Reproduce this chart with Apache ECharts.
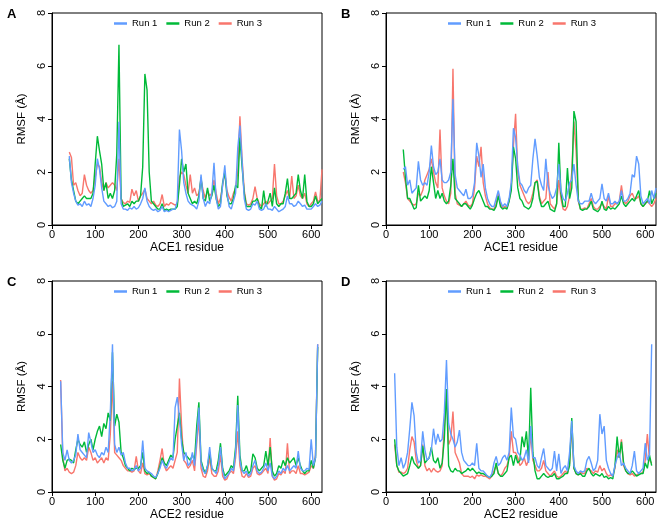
<!DOCTYPE html>
<html><head><meta charset="utf-8">
<script src="https://cdn.jsdelivr.net/npm/echarts@6/dist/echarts.min.js"></script>
<style>html,body{margin:0;padding:0;background:#fff}#c{width:668px;height:524px}</style>
</head><body><div id="c"></div>
<script>
// Residue positions (sampled every 5 residues)
const residuesACE1 = [40,45,50,55,60,65,70,75,80,85,90,95,100,105,110,115,120,125,130,135,140,145,150,155,160,165,170,175,180,185,190,195,200,205,210,215,220,225,230,235,240,245,250,255,260,265,270,275,280,285,290,295,300,305,310,315,320,325,330,335,340,345,350,355,360,365,370,375,380,385,390,395,400,405,410,415,420,425,430,435,440,445,450,455,460,465,470,475,480,485,490,495,500,505,510,515,520,525,530,535,540,545,550,555,560,565,570,575,580,585,590,595,600,605,610,615,620,625];
const residuesACE2 = [20,25,30,35,40,45,50,55,60,65,70,75,80,85,90,95,100,105,110,115,120,125,130,135,140,145,150,155,160,165,170,175,180,185,190,195,200,205,210,215,220,225,230,235,240,245,250,255,260,265,270,275,280,285,290,295,300,305,310,315,320,325,330,335,340,345,350,355,360,365,370,375,380,385,390,395,400,405,410,415,420,425,430,435,440,445,450,455,460,465,470,475,480,485,490,495,500,505,510,515,520,525,530,535,540,545,550,555,560,565,570,575,580,585,590,595,600,605,610,615];

const xTicks = [0,100,200,300,400,500,600];
const yTicks = [0,2,4,6,8];
const runNames = ['Run 1','Run 2','Run 3'];
const panelLetters = ['A','B','C','D'];
const xAxisNames = ['ACE1 residue','ACE1 residue','ACE2 residue','ACE2 residue'];

// Panel A (RMSF, Å)
const a_run1 = [2.6,1.6,1.2,0.9,0.75,0.8,0.7,0.9,0.75,0.8,
0.7,1.0,1.5,2.5,2.1,1.4,0.9,0.8,0.7,0.75,
0.65,0.7,0.9,3.9,0.8,0.6,0.6,0.55,0.65,0.6,
0.7,0.6,0.65,0.8,1.0,1.4,0.9,0.7,0.6,0.55,
0.6,0.5,0.55,0.7,0.5,0.55,0.5,0.55,0.6,0.6,
0.9,3.6,2.8,1.6,1.2,0.9,0.8,0.75,0.7,0.6,
0.9,1.9,1.0,0.7,0.9,0.8,1.2,2.35,1.0,0.6,
0.7,1.5,2.25,1.2,0.7,0.6,0.9,1.2,2.9,3.75,
2.4,1.0,0.6,0.55,0.6,0.8,0.75,0.9,0.6,0.55,
0.6,0.8,0.6,0.6,0.55,0.7,0.6,0.5,0.55,0.6,
0.7,1.1,0.8,0.8,0.7,0.75,0.9,0.8,0.7,0.75,
0.6,0.6,0.6,0.7,0.8,0.7,0.75,0.9];
const a_run2 = [2.5,1.7,1.3,0.9,0.8,0.9,1.0,1.1,1.0,1.0,
1.0,1.2,2.3,3.35,2.8,2.3,1.3,1.6,1.0,1.2,
1.0,1.3,2.7,6.8,1.0,0.7,0.75,0.8,0.7,0.9,
0.8,0.9,0.9,1.1,2.2,5.7,5.1,2.0,0.9,0.8,
0.7,0.6,0.6,0.8,0.55,0.6,0.55,0.6,0.6,0.6,
0.7,1.5,2.5,2.0,2.3,1.2,1.0,0.8,0.9,0.8,
1.1,1.8,1.0,0.9,1.4,0.9,1.1,1.5,1.0,0.7,
0.8,1.6,2.0,1.1,0.8,0.8,1.0,1.5,1.4,3.3,
2.2,1.2,0.7,0.7,0.7,0.9,0.9,1.0,0.7,0.6,
1.3,0.7,0.9,1.2,0.7,1.4,0.8,0.7,0.8,0.8,
1.2,1.75,1.0,1.0,1.1,1.2,1.9,1.3,1.0,1.9,
0.9,0.7,0.7,0.8,1.1,0.8,0.9,1.0];
const a_run3 = [2.75,2.55,1.5,1.6,1.3,1.1,1.2,1.9,1.5,1.3,
1.2,1.3,1.8,2.3,2.2,1.6,1.3,1.6,1.4,1.5,
1.6,1.5,1.3,2.5,1.0,0.85,0.8,0.9,0.85,1.35,
1.1,1.3,0.9,1.1,1.2,1.35,1.0,0.9,0.8,0.9,
0.75,0.7,0.8,1.15,0.7,0.8,0.75,0.85,0.8,0.75,
0.8,1.8,2.0,1.9,1.5,1.2,1.9,1.2,1.4,1.1,
1.2,1.7,1.3,1.0,1.3,1.1,1.2,1.7,1.2,0.8,
1.0,1.5,2.0,1.3,1.05,0.9,1.2,1.4,2.0,4.1,
2.5,1.3,0.8,0.75,0.8,1.0,1.45,1.0,0.8,0.7,
0.8,0.9,0.8,0.9,1.0,2.3,1.1,0.8,0.8,0.9,
1.1,1.3,1.0,1.85,1.0,1.1,1.5,1.1,1.0,1.2,
0.8,0.7,0.8,0.9,1.25,0.9,0.9,2.1];

// Panel B
const b_run1 = [2.1,2.2,1.5,1.7,1.2,1.3,1.4,2.4,1.7,1.5,
1.6,1.5,2.0,3.0,2.2,1.9,2.0,2.5,1.7,1.6,
1.6,1.7,2.0,4.75,1.9,1.4,1.3,1.2,1.1,1.35,
1.0,1.0,1.1,1.6,3.1,2.6,1.8,2.3,1.4,1.0,
0.8,0.7,0.7,1.0,1.3,0.9,0.7,0.8,0.7,1.0,
1.6,3.65,3.3,2.2,1.6,1.5,1.3,1.2,1.4,1.5,
2.5,3.25,2.6,1.8,1.5,1.3,2.5,1.5,1.2,1.0,
1.1,1.4,2.3,1.3,1.0,0.9,1.2,1.6,1.7,2.3,
1.5,0.9,0.8,0.8,0.9,0.9,0.9,1.2,0.9,0.8,
0.9,1.0,1.55,1.0,0.9,1.2,0.8,0.8,0.9,0.8,
0.9,1.3,0.9,0.9,1.0,1.2,1.9,1.8,2.6,2.3,
1.1,0.8,0.9,1.0,0.8,1.3,1.0,1.4];
const b_run2 = [2.85,1.8,1.0,1.0,0.8,0.6,0.65,1.5,0.9,1.0,
1.1,1.0,1.3,2.2,1.6,1.0,1.3,1.0,1.2,0.9,
0.8,0.9,1.5,2.5,1.0,0.9,0.8,0.7,0.8,0.8,
0.7,0.6,0.75,1.0,1.2,1.3,1.1,0.9,0.7,0.7,
0.6,0.6,0.55,0.7,1.1,0.7,0.6,0.65,0.6,0.9,
1.3,2.95,2.5,1.4,1.0,0.9,0.7,0.65,0.6,0.7,
1.0,1.6,1.65,1.0,0.7,0.7,0.8,0.9,0.6,0.55,
0.5,0.8,3.1,1.2,0.7,0.7,2.15,1.0,1.4,4.3,
3.9,1.0,0.6,0.55,0.6,0.6,0.7,0.9,0.6,0.55,
0.5,0.6,0.9,0.6,0.55,0.7,0.6,0.65,0.6,0.7,
0.8,1.1,0.8,0.7,0.8,0.9,1.0,0.9,1.1,1.3,
0.8,0.7,0.8,0.9,1.3,0.8,1.0,1.2];
const b_run3 = [2.0,1.6,1.0,0.9,0.8,0.75,0.8,1.2,1.1,1.3,
1.7,1.9,2.1,2.5,2.0,1.6,1.4,3.6,1.4,1.1,
0.9,0.8,1.2,5.9,1.2,0.8,0.75,0.7,0.8,0.9,
0.75,0.7,0.8,1.4,2.6,2.2,2.95,1.6,1.1,0.8,
0.65,0.6,0.6,0.8,1.2,0.8,0.65,0.7,0.65,0.9,
1.5,3.0,4.2,2.0,1.5,1.3,1.1,0.9,0.8,0.9,
1.2,1.6,1.7,1.1,0.8,0.9,1.0,2.0,0.8,0.7,
0.6,0.8,1.7,1.0,0.6,0.55,0.7,1.1,2.0,3.9,
2.8,0.9,0.6,0.6,0.65,0.6,0.8,1.0,0.7,0.6,
0.6,0.7,0.8,0.7,0.6,1.1,0.7,0.7,0.8,0.8,
0.9,1.5,0.9,0.8,0.9,1.1,1.2,1.0,1.0,1.1,
0.8,0.7,0.8,0.9,0.8,0.7,0.8,1.0];

// Panel C
const c_run1 = [4.2,1.5,1.2,1.6,1.2,1.1,1.2,1.4,2.2,1.6,
1.5,1.4,1.3,2.25,1.9,1.5,1.6,1.4,1.3,1.5,
1.4,1.7,1.5,3.0,5.6,1.8,1.5,1.7,1.4,1.5,
1.1,0.9,0.9,0.8,0.85,1.0,0.8,0.9,1.95,0.9,
0.8,0.75,0.7,0.6,0.55,0.7,0.9,1.2,1.0,0.9,
1.1,1.3,1.2,3.2,3.6,2.8,1.8,1.2,1.5,1.0,
1.1,1.5,1.0,2.0,3.2,1.1,0.8,0.7,1.0,1.7,
0.9,0.8,0.7,1.0,1.7,0.8,0.5,0.6,0.7,0.9,
0.8,1.5,3.3,1.2,0.8,0.7,0.8,0.6,0.7,1.0,
1.2,0.8,0.7,0.75,0.9,1.1,0.8,1.1,0.6,0.5,
0.6,0.8,0.7,0.9,0.8,1.0,0.8,0.9,1.0,0.9,
1.55,0.9,0.8,0.8,0.9,0.85,2.0,1.0,1.3,5.6];
const c_run2 = [1.8,1.2,0.9,1.2,1.25,1.2,1.1,1.6,2.0,1.8,
1.7,1.9,1.5,1.8,2.0,1.6,2.0,2.3,2.5,2.1,
2.6,2.4,3.0,2.7,5.3,2.5,2.95,2.65,1.5,1.3,
1.0,0.9,0.8,0.9,0.85,0.9,0.9,1.0,1.5,0.8,
0.7,0.75,0.6,0.55,0.5,0.7,1.0,1.3,1.1,1.0,
1.2,1.4,1.3,2.0,2.5,3.0,2.0,1.5,1.4,1.3,
1.2,1.4,1.2,2.5,3.4,1.2,0.9,0.7,1.0,1.5,
0.9,0.8,0.8,1.2,1.85,0.9,0.6,0.7,0.8,1.0,
0.9,1.7,3.65,1.4,0.8,0.8,1.0,0.7,0.8,1.45,
1.3,0.9,0.8,0.9,1.0,1.55,1.0,1.7,0.8,0.6,
0.7,1.0,0.9,1.2,1.0,1.3,1.1,1.2,1.3,1.0,
1.3,1.0,0.8,0.7,0.8,0.8,1.2,0.9,1.3,5.5];
const c_run3 = [4.25,1.3,0.8,0.9,0.75,0.7,0.75,1.0,1.5,1.3,
1.2,1.3,1.2,1.7,1.5,1.2,1.3,1.1,1.2,1.3,
1.1,1.3,1.2,2.2,4.2,1.5,1.4,1.3,1.2,1.0,
0.9,0.8,0.8,0.75,0.8,1.35,0.8,0.7,1.1,0.7,
0.65,0.7,0.6,0.55,0.5,0.8,1.2,1.65,1.0,0.8,
0.9,1.0,0.9,1.2,1.5,4.3,2.5,1.2,1.1,0.9,
1.0,1.2,0.8,1.8,2.8,0.9,0.6,0.55,0.8,1.3,
0.7,0.6,0.6,0.8,1.4,0.6,0.45,0.5,0.7,0.8,
0.7,1.3,2.3,1.0,0.6,0.55,0.7,0.55,0.6,0.9,
1.0,0.7,0.65,0.7,0.8,0.9,0.7,2.05,0.6,0.45,
0.5,0.7,0.65,0.8,0.7,1.85,0.7,0.8,0.8,0.7,
1.0,0.7,0.7,0.65,0.7,0.75,1.0,0.9,1.4,5.6];

// Panel D
const d_run1 = [4.5,1.7,1.0,1.3,0.9,1.1,1.5,2.4,3.4,2.9,
1.5,1.1,1.2,2.3,1.6,1.2,1.3,1.6,2.4,1.8,
2.2,1.9,2.0,3.0,5.0,2.6,2.2,2.0,1.7,1.9,
2.35,1.5,1.2,1.1,1.0,1.0,1.1,1.0,1.85,0.9,
0.8,0.8,0.7,0.6,0.55,0.7,1.1,1.35,1.0,1.1,
1.3,1.4,1.2,1.5,3.2,2.1,2.0,1.5,1.4,1.2,
1.3,1.6,1.1,2.5,1.3,1.3,1.0,0.9,1.3,1.65,
1.0,0.9,0.8,0.9,1.55,0.8,1.45,0.7,0.9,1.0,
0.8,1.5,2.7,1.0,0.8,0.7,0.8,0.75,0.8,1.2,
1.35,1.1,0.8,0.9,1.2,2.95,2.2,2.5,1.2,0.9,
0.7,0.6,1.0,1.3,1.5,1.0,1.1,0.9,0.8,0.7,
1.0,1.55,0.8,0.7,0.8,0.9,1.85,1.2,1.4,5.6];
const d_run2 = [2.0,1.0,0.8,0.7,0.6,0.65,0.7,1.0,1.35,1.1,
1.0,0.9,1.0,1.75,1.1,1.2,1.3,1.7,1.2,1.1,
1.3,0.9,1.1,2.0,3.9,1.0,0.8,0.75,0.9,0.8,
0.8,0.7,0.75,0.8,0.9,0.8,0.9,0.8,0.7,0.75,
0.7,0.7,0.65,0.6,0.55,0.6,0.7,1.1,0.7,0.6,
0.6,0.7,0.8,1.3,1.4,1.0,1.4,1.1,1.2,2.1,
1.7,2.3,1.2,3.95,1.5,0.8,0.5,0.5,0.6,0.7,
0.6,0.55,0.6,0.6,0.7,0.5,0.5,0.55,0.6,0.7,
0.7,1.0,2.8,0.9,0.7,0.65,0.7,0.6,0.6,0.8,
0.9,0.7,0.6,0.7,0.65,0.6,0.7,0.55,0.6,0.5,
0.55,0.5,1.0,2.1,1.3,1.9,1.1,0.8,0.7,0.7,
0.8,0.7,0.6,0.65,0.7,0.7,1.1,0.9,1.4,1.0];
const d_run3 = [1.8,1.0,0.75,0.75,0.7,0.75,0.9,1.6,2.1,1.9,
1.2,0.9,1.0,1.8,1.0,0.8,0.9,0.75,0.9,0.8,
0.75,0.8,1.0,2.5,3.8,1.8,2.0,3.05,1.5,1.3,
1.1,0.7,0.6,0.6,0.6,0.55,0.6,0.5,0.65,0.6,
0.65,0.6,0.6,0.55,0.5,0.6,0.8,1.0,0.7,0.6,
0.7,0.9,1.0,1.3,2.3,1.5,1.5,1.3,1.0,1.1,
1.3,1.0,1.2,2.2,1.2,1.0,0.8,0.8,0.9,1.2,
0.8,0.7,0.6,0.7,0.8,0.6,0.55,0.6,0.7,0.8,
0.7,1.1,2.5,0.9,0.7,0.65,0.75,0.7,0.7,0.9,
0.85,0.8,0.7,0.8,0.75,1.0,0.8,0.9,0.7,0.6,
0.65,0.6,0.9,1.6,1.3,2.0,1.0,0.8,0.7,0.65,
0.7,0.6,0.65,0.7,0.7,0.75,1.2,2.2,1.2,1.1];

const panelResidues = [residuesACE1, residuesACE1, residuesACE2, residuesACE2];
const panelRuns = [[a_run1,a_run2,a_run3],[b_run1,b_run2,b_run3],[c_run1,c_run2,c_run3],[d_run1,d_run2,d_run3]];
const runColors = ['#619CFF','#00BA38','#F8766D'];

const FONT = 'Liberation Sans, Arial, Helvetica, sans-serif';
const gridPos = [
  {left:52, top:13, width:270, height:212},
  {left:386, top:13, width:270, height:212},
  {left:52, top:281, width:270, height:211},
  {left:386, top:281, width:270, height:211}
];

const grid = [], xAxis = [], yAxis = [], legend = [], series = [], graphic = [];
gridPos.forEach((g, i) => {
  grid.push(Object.assign({show:true, borderColor:'#000', borderWidth:1, backgroundColor:'transparent'}, g));
  xAxis.push({
    gridIndex:i, type:'value', min:0, max:625,
    name: xAxisNames[i], nameLocation:'middle', nameGap:17,
    nameTextStyle:{fontSize:12, color:'#000', fontFamily:FONT},
    axisLine:{show:true, onZero:false, lineStyle:{color:'#000', width:1}},
    axisTick:{show:true, length:4, customValues:xTicks, lineStyle:{color:'#000'}},
    axisLabel:{customValues:xTicks, fontSize:11, color:'#000', margin:4, fontFamily:FONT},
    splitLine:{show:false}
  });
  yAxis.push({
    gridIndex:i, type:'value', min:0, max:8, interval:2,
    name:'RMSF (Å)', nameLocation:'middle', nameGap:24, nameRotate:90,
    nameTextStyle:{fontSize:11.5, color:'#000', fontFamily:FONT},
    axisLine:{show:true, lineStyle:{color:'#000', width:1}},
    axisTick:{show:true, length:4, lineStyle:{color:'#000'}},
    axisLabel:{rotate:90, fontSize:11, color:'#000', margin:5, fontFamily:FONT, customValues:yTicks},
    splitLine:{show:false}
  });
  legend.push({
    data: runNames.slice(), left: g.left + 62, top: g.top + 5.5,
    icon:'rect', itemWidth:13, itemHeight:2.5, itemGap:9,
    textStyle:{fontSize:9.5, color:'#000', fontFamily:FONT},
    padding:0
  });
  // draw Run 3 first, Run 1 last (on top)
  [2,1,0].forEach(k => {
    const res = panelResidues[i], vals = panelRuns[i][k];
    series.push({
      type:'line', name: runNames[k], xAxisIndex:i, yAxisIndex:i,
      data: res.map((r, j) => [r, vals[j]]),
      showSymbol:false, symbol:'none', smooth:false,
      lineStyle:{color:runColors[k], width:1.4},
      itemStyle:{color:runColors[k]},
      z: 2 + (2-k), animation:false
    });
  });
  graphic.push({type:'text', left: g.left - 45, top: g.top - 5,
    style:{text: panelLetters[i], font:'bold 13px ' + FONT, fill:'#000'}});
});

const chart = echarts.init(document.getElementById('c'), null, {renderer:'canvas'});
chart.setOption({animation:false, backgroundColor:'#fff', grid, xAxis, yAxis, legend, series, graphic});
</script>
</body></html>
